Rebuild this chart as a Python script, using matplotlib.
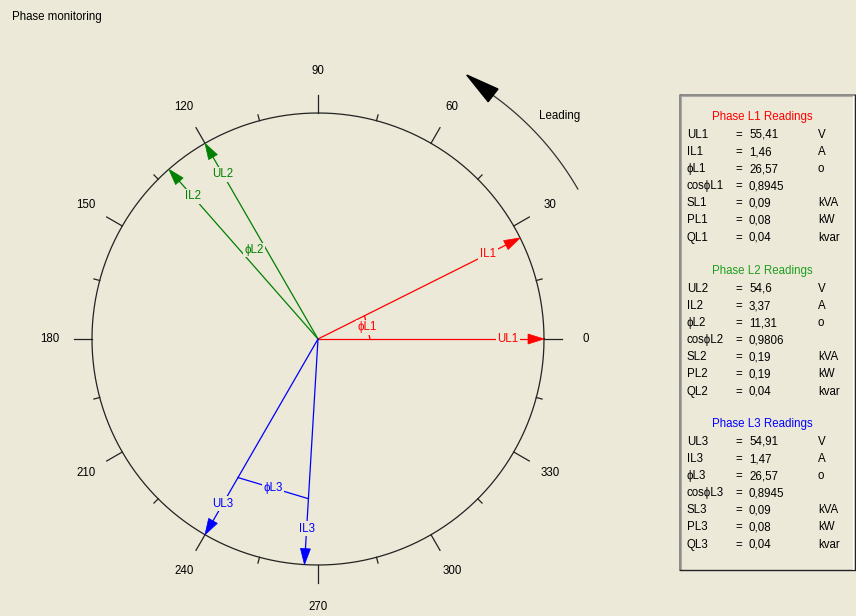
import numpy as np
import matplotlib
matplotlib.use("Agg")
import matplotlib.pyplot as plt
from matplotlib.patches import Polygon, Rectangle

plt.rcParams['font.family'] = ['Liberation Sans', 'DejaVu Sans']

# ---------------- data ----------------
phases = ["L1", "L2", "L3"]
colors = ["#FF0000", "#008000", "#0000FF"]
title_colors = ["#FF0000", "#1E9E1E", "#0000FF"]
u_angle = [0.0, 120.0, 240.0]           # voltage phasor angle (deg)
phi = [26.57, 11.31, 26.57]             # phase shift current vs voltage (deg)
u_val = [55.41, 54.6, 54.91]            # V
i_val = [1.46, 3.37, 1.47]              # A
cos_phi = [0.8945, 0.9806, 0.8945]
s_val = [0.09, 0.19, 0.09]              # kVA
p_val = [0.08, 0.19, 0.08]              # kW
q_val = [0.04, 0.04, 0.04]              # kvar
tick_labels = [0, 30, 60, 90, 120, 150, 180, 210, 240, 270, 300, 330]

BG = "#ECE9D8"
W, H = 856, 616
CX, CY = 318, 339
R = 226

fig = plt.figure(figsize=(W / 100, H / 100), dpi=100, facecolor=BG)
ax = fig.add_axes([0, 0, 1, 1])
ax.set_xlim(-CX, W - CX)
ax.set_ylim(-(H - CY), CY)
ax.set_facecolor(BG)
ax.axis("off")


def fx(px):
    return px - CX


def fy(py):
    return CY - py


def pol(r, deg):
    a = np.radians(deg)
    return r * np.cos(a), r * np.sin(a)


FS = 8.3

# title
ax.text(fx(12), fy(17), "Phase monitoring", fontsize=FS, ha="left", va="center", color="black")

# circle
t = np.linspace(0, 2 * np.pi, 721)
ax.plot(R * np.cos(t), R * np.sin(t), color="#222222", lw=0.9)

# ticks
for d in range(0, 360, 15):
    major = d % 30 == 0
    L = 18 if major else 6
    x0, y0 = pol(R, d)
    x1, y1 = pol(R + L, d)
    ax.plot([x0, x1], [y0, y1], color="#222222", lw=0.9)
for d in tick_labels:
    x, y = pol(268, d)
    ax.text(x, y, str(d), fontsize=FS, ha="center", va="center", color="black")


def arrow(deg, color, length=R, hl=16, hw=5):
    tipx, tipy = pol(length, deg)
    bx, by = pol(length - hl, deg)
    ux, uy = pol(1, deg + 90)
    ax.plot([0, bx], [0, by], color=color, lw=0.9, zorder=3)
    ax.add_patch(Polygon([[tipx, tipy], [bx + hw * ux, by + hw * uy], [bx - hw * ux, by - hw * uy]],
                         closed=True, facecolor=color, edgecolor=color, lw=0.5, zorder=4))


chord_r = [52, 110, 160]
for k in range(3):
    c = colors[k]
    ua = u_angle[k]
    ia = u_angle[k] + phi[k]
    arrow(ua, c)
    arrow(ia, c)
    for ang, name in ((ua, "U" + phases[k]), (ia, "I" + phases[k])):
        x, y = pol(190, ang)
        ax.text(x, y, name, fontsize=FS, color=c, ha="center", va="center", zorder=5,
                bbox=dict(boxstyle="square,pad=0.15", facecolor=BG, edgecolor="none"))
    # phi chord
    p0 = pol(chord_r[k], ua)
    p1 = pol(chord_r[k], ia)
    ax.plot([p0[0], p1[0]], [p0[1], p1[1]], color=c, lw=0.9, zorder=3)
    # small perpendicular ticks at the chord ends
    mx, my = (p0[0] + p1[0]) / 2, (p0[1] + p1[1]) / 2
    ax.text(mx, my, "ϕ" + phases[k], fontsize=FS, color=c, ha="center", va="center", zorder=5,
            bbox=dict(boxstyle="square,pad=0.1", facecolor=BG, edgecolor="none"))

# leading arc
ta = np.radians(np.linspace(30, 55, 100))
ax.plot(300 * np.cos(ta), 300 * np.sin(ta), color="#333333", lw=0.9)
tipx, tipy = pol(303, 60.6)
basex, basey = pol(300, 54.3)
dx, dy = tipx - basex, tipy - basey
n = np.hypot(dx, dy)
px_, py_ = -dy / n, dx / n
hw = 8
ax.add_patch(Polygon([[tipx, tipy], [basex + hw * px_, basey + hw * py_], [basex - hw * px_, basey - hw * py_]],
                     closed=True, facecolor="black", edgecolor="black", zorder=4))
lx, ly = pol(329, 42.7)
ax.text(lx, ly, "Leading", fontsize=FS, ha="center", va="center", color="black")

# readings panel
x0p, y0p, x1p, y1p = 680, 95, 855, 570
ax.plot([fx(x0p), fx(x0p), fx(x1p)], [fy(y1p), fy(y0p), fy(y0p)], color="#7a7a7a", lw=1.2)
ax.plot([fx(x0p + 1.5), fx(x0p + 1.5), fx(x1p - 1.5)], [fy(y1p - 1.5), fy(y0p + 1.5), fy(y0p + 1.5)],
        color="#aaaaaa", lw=0.8)
ax.plot([fx(x0p), fx(x1p), fx(x1p)], [fy(y1p), fy(y1p), fy(y0p)], color="#222222", lw=1.0)
ax.plot([fx(x1p - 1.5)] * 2, [fy(y1p - 1.5), fy(y0p + 1.5)], color="#ffffff", lw=0.8)

title_y = [117, 271, 424]
row_gap = 17.1
for k in range(3):
    ph = phases[k]
    ax.text(fx(762), fy(title_y[k]), f"Phase {ph} Readings", fontsize=FS, color=title_colors[k],
            ha="center", va="center")
    rows = [
        (f"U{ph}", u_val[k], "V"),
        (f"I{ph}", i_val[k], "A"),
        (f"ϕ{ph}", phi[k], "o"),
        (f"cosϕ{ph}", cos_phi[k], ""),
        (f"S{ph}", s_val[k], "kVA"),
        (f"P{ph}", p_val[k], "kW"),
        (f"Q{ph}", q_val[k], "kvar"),
    ]
    for j, (name, val, unit) in enumerate(rows):
        y = fy(title_y[k] + 18 + j * row_gap)
        ax.text(fx(687), y, name, fontsize=FS, ha="left", va="center", color="black")
        ax.text(fx(735), y, "=", fontsize=FS, ha="left", va="center", color="black")
        ax.text(fx(749), y, f"{val:g}".replace(".", ","), fontsize=FS, ha="left", va="center", color="black")
        ax.text(fx(818), y, unit, fontsize=FS, ha="left", va="center", color="black")

fig.savefig("out.png", dpi=100, facecolor=BG)
